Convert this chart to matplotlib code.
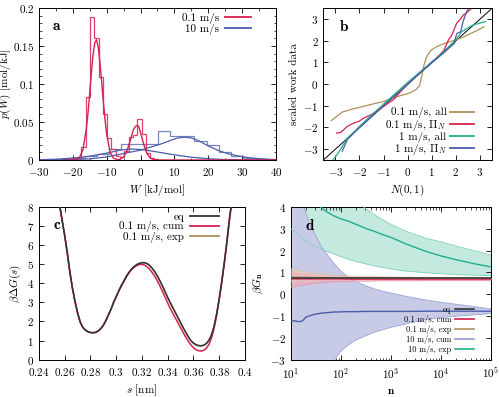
import numpy as np
import matplotlib
matplotlib.use('Agg')
import matplotlib.pyplot as plt
from matplotlib.lines import Line2D
from matplotlib.ticker import FuncFormatter, AutoMinorLocator, LogLocator, NullFormatter

### data ###########################################
# panel a: work histograms and fits
edges_red = [-20.0, -18.73, -17.46, -16.19, -14.92, -13.65, -12.38, -11.11, -9.84, -8.57,
             -7.30, -6.03, -4.76, -3.49, -2.22, -0.95, 0.32, 1.59, 2.86, 4.13]
hist_red = [0.001, 0.003, 0.017, 0.083, 0.188, 0.160, 0.109, 0.060, 0.029, 0.015,
            0.005, 0.004, 0.012, 0.030, 0.033, 0.054, 0.034, 0.009, 0.002]
edges_blue = [-30.9, -27.3, -23.7, -20.1, -16.5, -12.9, -9.3, -5.7, -2.1, 1.5, 5.1,
              8.7, 12.3, 15.9, 19.5, 23.1, 26.7, 30.3, 33.9, 37.5, 41.1]
hist_blue = [0.0003, 0.0005, 0.001, 0.003, 0.005, 0.008, 0.0145, 0.021, 0.021, 0.021,
             0.038, 0.032, 0.032, 0.0246, 0.020, 0.010, 0.0057, 0.0026, 0.001, 0.0005]

w_red = [-22, -20, -19, -18, -17, -16, -15.5, -15, -14.5, -14, -13.5, -13, -12.5, -12,
         -11.5, -11, -10.5, -10, -9, -8, -7, -6, -5, -4, -3.5, -3, -2.5, -2, -1.5, -1,
         -0.5, 0, 0.5, 1, 2, 3, 4, 5, 10, 20, 30, 40]
p_red = [0, 0.0001, 0.0008, 0.0033, 0.0136, 0.041, 0.062, 0.088, 0.115, 0.139, 0.154,
         0.158, 0.149, 0.130, 0.104, 0.078, 0.054, 0.034, 0.0105, 0.0025, 0.0006, 0.0009,
         0.0038, 0.0119, 0.019, 0.026, 0.034, 0.041, 0.044, 0.0457, 0.044, 0.036, 0.028,
         0.020, 0.0078, 0.0022, 0.0004, 0.0001, 0, 0, 0, 0]
w_blue1 = [-30, -25, -20, -15, -10, -5, 0, 3, 6, 9, 11, 13, 15, 17, 20, 23, 26, 29, 32, 35, 40]
p_blue1 = [0.0001, 0.0002, 0.0006, 0.0015, 0.004, 0.0085, 0.013, 0.017, 0.021, 0.026,
           0.029, 0.030, 0.029, 0.0258, 0.0185, 0.0125, 0.008, 0.0052, 0.003, 0.0017, 0.0005]
w_blue2 = [-30, -25, -20, -15, -10, -6, -3, 0, 3, 6, 9, 12, 15, 18, 21, 25, 30, 35, 40]
p_blue2 = [0.0003, 0.001, 0.0025, 0.005, 0.009, 0.013, 0.0145, 0.0138, 0.012, 0.0098,
           0.0075, 0.0055, 0.0037, 0.0024, 0.0014, 0.0006, 0.0002, 0.0001, 0]

# panel b: quantile plots
diag = [-3.5, 3.5]
qa_x = [-3.17, -2.72, -2.3, -1.96, -1.5, -1.0, -0.59, -0.2, 0.1, 0.35, 0.5, 0.59, 0.68,
        0.79, 0.95, 1.2, 1.5, 1.76, 2.05, 2.31, 2.7, 3.0, 3.17]
qa_y = [-1.68, -1.29, -1.15, -1.06, -0.93, -0.80, -0.62, -0.50, -0.40, -0.24, -0.05, 0.4,
        0.9, 1.27, 1.55, 1.73, 1.87, 1.96, 2.07, 2.17, 2.38, 2.55, 2.65]
qb_x = [-2.95, -2.79, -2.65, -2.51, -2.24, -2.0, -1.83, -1.6, -1.41, -1.2, -1.0, -0.8,
        -0.59, -0.3, 0.0, 0.5, 1.0, 1.3, 1.5, 1.69, 1.8, 1.89, 2.03, 2.15, 2.31, 2.45, 2.65]
qb_y = [-2.26, -2.23, -2.1, -1.95, -1.8, -1.7, -1.57, -1.45, -1.34, -1.2, -1.03, -0.87,
        -0.72, -0.35, 0.0, 0.52, 1.02, 1.32, 1.55, 2.04, 2.2, 2.42, 2.81, 2.95, 3.19, 3.3, 3.5]
qc_x = [-3.09, -2.9, -2.5, -2.0, -1.5, -1.0, -0.5, 0.0, 0.5, 1.0, 1.5, 2.0, 2.24, 2.5,
        2.72, 3.0, 3.23]
qc_y = [-3.5, -3.2, -2.5, -1.95, -1.42, -0.92, -0.42, 0.08, 0.55, 1.02, 1.5, 2.05, 2.42,
        2.6, 2.73, 2.82, 2.89]
qd_x = [-2.72, -2.5, -2.0, -1.5, -1.0, -0.5, 0.0, 0.5, 1.0, 1.5, 1.8, 1.95, 2.0, 2.05,
        2.2, 2.3, 2.4, 2.51]
qd_y = [-3.1, -2.55, -2.0, -1.5, -1.0, -0.5, 0.0, 0.5, 0.98, 1.45, 1.75, 1.9, 2.2, 2.35,
        2.42, 2.9, 3.2, 3.5]

# panel c: free energy profiles
s_nm = [0.2563, 0.258, 0.260, 0.262, 0.264, 0.266, 0.268, 0.270, 0.272, 0.274, 0.276,
        0.278, 0.280, 0.282, 0.284, 0.286, 0.288, 0.290, 0.292, 0.294, 0.296, 0.298,
        0.300, 0.302, 0.304, 0.306, 0.308, 0.310, 0.312, 0.314, 0.316, 0.318, 0.320,
        0.322, 0.324, 0.326, 0.328, 0.330, 0.332, 0.334, 0.336, 0.338, 0.340, 0.342,
        0.344, 0.346, 0.348, 0.350, 0.352, 0.354, 0.356, 0.358, 0.360, 0.362, 0.364,
        0.366, 0.368, 0.370, 0.372, 0.374, 0.376, 0.378, 0.380, 0.382, 0.384, 0.386,
        0.388, 0.3892]
g_eq = [8.0, 7.3, 6.5, 5.6, 4.6, 3.75, 3.05, 2.45, 1.98, 1.7, 1.55, 1.47, 1.42, 1.41,
        1.43, 1.5, 1.62, 1.8, 2.05, 2.35, 2.65, 3.0, 3.3, 3.6, 3.88, 4.12, 4.38, 4.58,
        4.75, 4.88, 4.98, 5.04, 5.08, 5.08, 5.03, 4.93, 4.78, 4.6, 4.38, 4.12, 3.85, 3.55,
        3.25, 2.98, 2.72, 2.46, 2.2, 1.94, 1.68, 1.43, 1.2, 1.0, 0.87, 0.78, 0.74, 0.73,
        0.76, 0.85, 1.02, 1.3, 1.75, 2.4, 3.2, 4.1, 5.1, 6.2, 7.4, 8.0]
g_cum = [8.0, 7.3, 6.5, 5.6, 4.6, 3.75, 3.05, 2.45, 1.98, 1.7, 1.55, 1.47, 1.42, 1.41,
         1.43, 1.5, 1.62, 1.8, 2.05, 2.35, 2.65, 3.0, 3.3, 3.6, 3.87, 4.1, 4.35, 4.55,
         4.72, 4.84, 4.93, 4.98, 4.99, 4.95, 4.86, 4.73, 4.55, 4.36, 4.12, 3.85, 3.56, 3.26,
         2.96, 2.68, 2.42, 2.17, 1.92, 1.67, 1.42, 1.18, 0.96, 0.77, 0.62, 0.52, 0.47, 0.455,
         0.49, 0.6, 0.8, 1.13, 1.65, 2.33, 3.17, 4.1, 5.1, 6.2, 7.4, 8.0]
g_exp = [8.0, 7.3, 6.5, 5.6, 4.6, 3.75, 3.05, 2.45, 1.98, 1.7, 1.55, 1.47, 1.42, 1.41,
         1.43, 1.5, 1.62, 1.8, 2.05, 2.35, 2.65, 3.0, 3.3, 3.6, 3.88, 4.12, 4.38, 4.58,
         4.75, 4.88, 4.98, 5.04, 5.07, 5.07, 5.02, 4.92, 4.77, 4.59, 4.37, 4.11, 3.84, 3.54,
         3.24, 2.97, 2.71, 2.45, 2.19, 1.93, 1.67, 1.42, 1.19, 0.99, 0.86, 0.77, 0.73, 0.72,
         0.75, 0.84, 1.01, 1.3, 1.75, 2.4, 3.2, 4.1, 5.1, 6.2, 7.4, 8.0]

# panel d: convergence with number of trajectories
n_traj = [10, 12, 15, 17, 20, 25, 30, 40, 50, 70, 100, 150, 200, 300, 500, 700, 1000,
          2000, 5000, 1e4, 2e4, 5e4, 1e5]
g_eq_level = 0.73
cum01 = [0.70, 0.70, 0.70, 0.70, 0.70, 0.70, 0.70, 0.70, 0.70, 0.70, 0.70, 0.69, 0.69,
         0.69, 0.69, 0.69, 0.69, 0.69, 0.69, 0.69, 0.69, 0.69, 0.69]
cum01_hi = [1.08, 1.05, 1.02, 1.0, 0.98, 0.95, 0.93, 0.9, 0.88, 0.86, 0.84, 0.82, 0.81,
            0.8, 0.79, 0.78, 0.78, 0.77, 0.76, 0.76, 0.76, 0.75, 0.75]
cum01_lo = [0.32, 0.36, 0.4, 0.42, 0.45, 0.48, 0.5, 0.53, 0.55, 0.57, 0.58, 0.59, 0.6,
            0.6, 0.61, 0.61, 0.61, 0.61, 0.62, 0.62, 0.62, 0.62, 0.62]
exp01 = [0.78, 0.78, 0.77, 0.77, 0.77, 0.76, 0.76, 0.76, 0.76, 0.75, 0.75, 0.75, 0.75,
         0.74, 0.74, 0.74, 0.74, 0.74, 0.74, 0.74, 0.74, 0.74, 0.74]
exp01_hi = [1.17, 1.12, 1.07, 1.05, 1.02, 0.98, 0.96, 0.92, 0.9, 0.87, 0.85, 0.83, 0.82,
            0.81, 0.8, 0.79, 0.79, 0.78, 0.77, 0.77, 0.76, 0.76, 0.76]
exp01_lo = [0.55, 0.56, 0.58, 0.59, 0.6, 0.62, 0.63, 0.64, 0.65, 0.66, 0.67, 0.68, 0.68,
            0.69, 0.69, 0.7, 0.7, 0.7, 0.7, 0.71, 0.71, 0.71, 0.71]
cum10 = [-1.19, -1.23, -1.26, -1.22, -1.05, -0.97, -0.92, -0.87, -0.85, -0.82, -0.81,
         -0.80, -0.80, -0.79, -0.79, -0.79, -0.79, -0.79, -0.78, -0.78, -0.78, -0.78, -0.78]
cum10_hi = [7.5, 6.0, 4.8, 4.2, 3.7, 3.1, 2.75, 2.2, 1.9, 1.45, 1.05, 0.72, 0.58, 0.4,
            0.22, 0.13, 0.05, -0.1, -0.27, -0.37, -0.46, -0.58, -0.68]
cum10_lo = [-15, -12, -9, -8, -7, -5.8, -5, -4.1, -3.6, -3.1, -2.6, -2.28, -2.1, -1.92,
            -1.72, -1.62, -1.52, -1.36, -1.16, -1.07, -1.01, -0.94, -0.89]
exp10 = [6.5, 6.0, 5.4, 5.1, 4.8, 4.45, 4.25, 3.97, 3.8, 3.6, 3.45, 3.32, 3.2, 3.03, 2.85,
         2.72, 2.6, 2.3, 1.96, 1.75, 1.58, 1.38, 1.25]
exp10_hi = [12, 11, 10, 9.5, 9, 8, 7.5, 6.8, 6.3, 5.6, 5.1, 4.6, 4.3, 3.95, 3.6, 3.4, 3.2,
            2.88, 2.56, 2.4, 2.2, 1.97, 1.79]
exp10_lo = [3.0, 2.85, 2.65, 2.55, 2.45, 2.3, 2.2, 2.08, 1.98, 1.85, 1.72, 1.58, 1.5, 1.4,
            1.28, 1.22, 1.16, 1.06, 0.98, 0.94, 0.9, 0.87, 0.85]
####################################################

red = '#d6204e'
blue = '#4b5cab'
tan = '#b0905a'
teal = '#1fae8c'
dark = '#333333'

plt.rcParams.update({
    'font.family': 'serif',
    'font.serif': ['cmr10'],
    'mathtext.fontset': 'cm',
    'axes.formatter.use_mathtext': True,
    'font.size': 8,
    'axes.linewidth': 0.7,
    'xtick.direction': 'in', 'ytick.direction': 'in',
    'xtick.top': True, 'ytick.right': True,
    'xtick.major.size': 3.5, 'ytick.major.size': 3.5,
    'xtick.minor.size': 1.8, 'ytick.minor.size': 1.8,
    'xtick.major.width': 0.6, 'ytick.major.width': 0.6,
    'xtick.minor.width': 0.5, 'ytick.minor.width': 0.5,
    'xtick.labelsize': 8, 'ytick.labelsize': 8,
    'xtick.major.pad': 4.5,
})

fmt = FuncFormatter(lambda v, p: '$%g$' % v)

fig = plt.figure(figsize=(4.99, 3.97), dpi=100)
ax_a = fig.add_axes([0.078, 0.597, 0.475, 0.383])
ax_b = fig.add_axes([0.648, 0.597, 0.338, 0.382])
ax_c = fig.add_axes([0.078, 0.094, 0.413, 0.385])
ax_d = fig.add_axes([0.583, 0.094, 0.401, 0.385])

def key(ax, handles, labels, **kw):
    leg = ax.legend(handles, labels, frameon=False, markerfirst=False, **kw)
    return leg

# ---- panel a
ax = ax_a
ax.stairs(hist_blue, edges_blue, color=blue, lw=0.9, alpha=0.75)
ax.plot(w_blue1, p_blue1, color=blue, lw=0.9)
ax.plot(w_blue2, p_blue2, color=blue, lw=0.9)
ax.stairs(hist_red, edges_red, color=red, lw=0.9, alpha=0.85)
ax.plot(w_red, p_red, color=red, lw=1.0)
ax.set_xlim(-30, 40)
ax.set_ylim(0, 0.2)
ax.set_xticks([-30, -20, -10, 0, 10, 20, 30, 40])
ax.set_yticks([0, 0.05, 0.1, 0.15, 0.2])
ax.xaxis.set_minor_locator(AutoMinorLocator(2))
ax.yaxis.set_minor_locator(AutoMinorLocator(5))
ax.xaxis.set_major_formatter(fmt)
ax.yaxis.set_major_formatter(fmt)
ax.set_xlabel(r'$W$ [kJ/mol]', labelpad=3)
ax.set_ylabel(r'$p(W)$ [mol/kJ]', labelpad=0)
ax.text(0.055, 0.88, r'$\mathbf{a}$', transform=ax.transAxes, fontsize=11, va='center')
key(ax, [Line2D([], [], color=red, lw=1.3), Line2D([], [], color=blue, lw=1.3)],
    ['0.1 m/s', '10 m/s'], loc='upper right', bbox_to_anchor=(0.935, 1.03),
    handlelength=2.3, labelspacing=0.0, handletextpad=0.5, fontsize=8)

# ---- panel b
ax = ax_b
ax.plot(diag, diag, color='black', lw=0.7)
ax.plot(qa_x, qa_y, color=tan, lw=0.9)
ax.plot(qb_x, qb_y, color=red, lw=0.9)
ax.plot(qc_x, qc_y, color=teal, lw=0.9)
ax.plot(qd_x, qd_y, color=blue, lw=0.9)
ax.set_xlim(-3.5, 3.5)
ax.set_ylim(-3.5, 3.5)
ax.set_xticks([-3, -2, -1, 0, 1, 2, 3])
ax.set_yticks([-3, -2, -1, 0, 1, 2, 3])
ax.xaxis.set_major_formatter(fmt)
ax.yaxis.set_major_formatter(fmt)
ax.set_xlabel(r'$N(0,1)$', labelpad=3)
ax.set_ylabel('scaled work data', labelpad=3)
ax.text(0.095, 0.88, r'$\mathbf{b}$', transform=ax.transAxes, fontsize=11, va='center')
key(ax, [Line2D([], [], color=c, lw=1.3) for c in (tan, red, teal, blue)],
    ['0.1 m/s, all', r'0.1 m/s, $\Pi_N$', '1 m/s, all', r'1 m/s, $\Pi_N$'],
    loc='lower right', bbox_to_anchor=(0.955, -0.045), handlelength=2.2,
    labelspacing=-0.08, handletextpad=0.3, fontsize=8)

# ---- panel c
ax = ax_c
ax.plot(s_nm, g_exp, color=tan, lw=1.1, zorder=2)
ax.plot(s_nm, g_cum, color=red, lw=1.1, zorder=3)
ax.plot(s_nm, g_eq, color=dark, lw=1.1, zorder=4)
ax.set_xlim(0.24, 0.4)
ax.set_ylim(0, 8)
ax.set_xticks([0.24, 0.26, 0.28, 0.3, 0.32, 0.34, 0.36, 0.38, 0.4])
ax.set_yticks(range(0, 9))
ax.xaxis.set_major_formatter(fmt)
ax.yaxis.set_major_formatter(fmt)
ax.set_xlabel(r'$s$ [nm]', labelpad=3)
ax.set_ylabel(r'$\beta\Delta G(s)$', labelpad=3)
ax.text(0.07, 0.88, r'$\mathbf{c}$', transform=ax.transAxes, fontsize=11, va='center')
key(ax, [Line2D([], [], color=c, lw=1.3) for c in (dark, red, tan)],
    ['eq', '0.1 m/s, cum', '0.1 m/s, exp'], loc='upper right',
    bbox_to_anchor=(0.92, 1.03), handlelength=2.6, labelspacing=-0.05,
    handletextpad=0.5, fontsize=8)

# ---- panel d
ax = ax_d
ax.fill_between(n_traj, exp10_lo, exp10_hi, color='#c4e9de', lw=0, zorder=1)
ax.fill_between(n_traj, cum10_lo, cum10_hi, color='#c8cbe6', lw=0, zorder=2)
ax.plot(n_traj, cum10_hi, color='#9aa3d6', lw=0.6, zorder=2.5)
ax.plot(n_traj, cum10_lo, color='#9aa3d6', lw=0.6, zorder=2.5)
ax.plot(n_traj, exp10_lo, color='#7fd2bd', lw=0.6, zorder=2.6)
ax.plot(n_traj, exp10_hi, color='#7fd2bd', lw=0.6, zorder=2.6)
ax.fill_between(n_traj, exp01_lo, exp01_hi, color='#e9d9c4', alpha=0.8, lw=0, zorder=3)
ax.fill_between(n_traj, cum01_lo, cum01_hi, color='#f1a9b9', alpha=0.6, lw=0, zorder=3.1)
ax.plot(n_traj, exp01_hi, color='#d9bf9c', lw=0.5, zorder=3.2)
ax.plot(n_traj, cum01_lo, color='#eb8fa4', lw=0.5, zorder=3.2)
ax.axhline(g_eq_level, color=dark, lw=1.1, zorder=5)
ax.plot(n_traj, cum01, color=red, lw=1.0, zorder=4)
ax.plot(n_traj, exp01, color=tan, lw=1.0, zorder=4.1)
ax.plot(n_traj, cum10, color=blue, lw=1.0, zorder=4)
ax.plot(n_traj, exp10, color=teal, lw=1.0, zorder=4)
ax.set_xscale('log')
ax.set_xlim(10, 1e5)
ax.set_ylim(-3, 4)
ax.xaxis.set_major_locator(LogLocator(base=10, numticks=10))
ax.xaxis.set_minor_locator(LogLocator(base=10, subs=np.arange(2, 10), numticks=20))
ax.xaxis.set_minor_formatter(NullFormatter())
ax.set_yticks(range(-3, 5))
ax.yaxis.set_major_formatter(fmt)
ax.set_xlabel(r'$\mathbf{n}$', labelpad=4)
ax.set_ylabel(r'$\beta G_\mathbf{n}$', labelpad=3)
ax.text(0.07, 0.875, r'$\mathbf{d}$', transform=ax.transAxes, fontsize=11, va='center',
        zorder=10)
leg = key(ax, [Line2D([], [], color=c, lw=1.2) for c in (dark, red, tan, '#8f9ad0', teal)],
          ['eq', '0.1 m/s, cum', '0.1 m/s, exp', '10 m/s, cum', '10 m/s, exp'],
          loc='lower right', bbox_to_anchor=(0.95, -0.01), handlelength=2.2,
          labelspacing=0.1, handletextpad=0.5, fontsize=6)
leg.set_zorder(10)

fig.savefig('out.png', dpi=100)
